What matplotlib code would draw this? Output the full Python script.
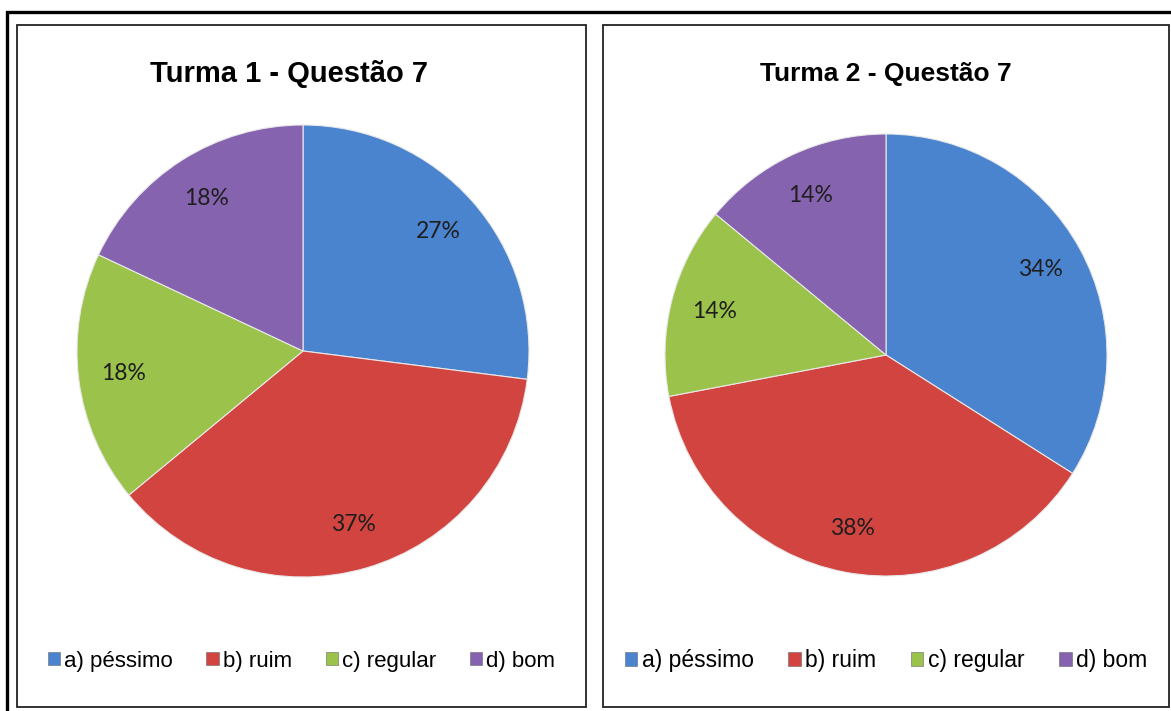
import matplotlib
matplotlib.use("Agg")
import matplotlib.pyplot as plt
from matplotlib.patches import Rectangle, Patch

# answer categories (same for both classes)
categories = ["a) péssimo", "b) ruim", "c) regular", "d) bom"]

# percentages
turma1_values = [27, 37, 18, 18]
turma2_values = [34, 38, 14, 14]

titles = ["Turma 1 - Questão 7", "Turma 2 - Questão 7"]

colors = ["#4A84CF", "#D2443F", "#9BC24A", "#8563AE"]

W, H = 1171, 711
fig = plt.figure(figsize=(W / 100, H / 100), dpi=100)
fig.patch.set_facecolor("white")


def px_box(x0, y0, x1, y1):
    # pixel box (top-left origin) -> figure fraction [left, bottom, width, height]
    return [x0 / W, 1 - y1 / H, (x1 - x0) / W, (y1 - y0) / H]


# outer frame
l, b, w, h = px_box(7, 12, 1180, 720)
fig.patches.append(Rectangle((l, b), w, h, transform=fig.transFigure,
                             fill=False, edgecolor="black", linewidth=2.4))

panels = [
    # (panel box, pie center x, pie center y, radius, title size, title x, legend size)
    ((17, 25, 586, 707), 303, 351, 226, 21, 289, 16),
    ((603, 25, 1169, 707), 886, 355, 221, 19, 886, 16.5),
]

for k, (box, cx, cy, r, tsize, tx, lsize) in enumerate(panels):
    values = [turma1_values, turma2_values][k]

    # panel border
    l, b, w, h = px_box(*box)
    fig.patches.append(Rectangle((l, b), w, h, transform=fig.transFigure,
                                 fill=False, edgecolor="#222222", linewidth=1.3))

    # pie axes, square with the pie radius in pixels
    ax = fig.add_axes(px_box(cx - r, cy - r, cx + r, cy + r))
    wedges, texts, autotexts = ax.pie(
        values, colors=colors, startangle=90, counterclock=False,
        radius=1, autopct="%1.0f%%", pctdistance=0.8,
        wedgeprops=dict(edgecolor="#e8e8e8", linewidth=0.8),
        textprops=dict(fontsize=16.5, family="Lato", color="#1e1e1e"))
    ax.set_xlim(-1, 1)
    ax.set_ylim(-1, 1)
    ax.set_aspect("equal")
    ax.axis("off")

    # title
    fig.text(tx / W, 1 - 74 / H, titles[k], ha="center", va="center",
             fontsize=tsize, fontweight="bold", family="Liberation Sans")

    # legend
    panel_cx = (box[0] + box[2]) / 2
    handles = [Patch(facecolor=c, edgecolor="#666666", linewidth=0.4) for c in colors]
    fig.legend(handles, categories, loc="center", ncol=4, frameon=False,
               bbox_to_anchor=(panel_cx / W, 1 - 661 / H),
               handlelength=0.55, handleheight=0.55, handletextpad=0.2,
               columnspacing=1.5, prop=dict(family="Liberation Sans", size=lsize))

fig.savefig("out.png", dpi=100)
